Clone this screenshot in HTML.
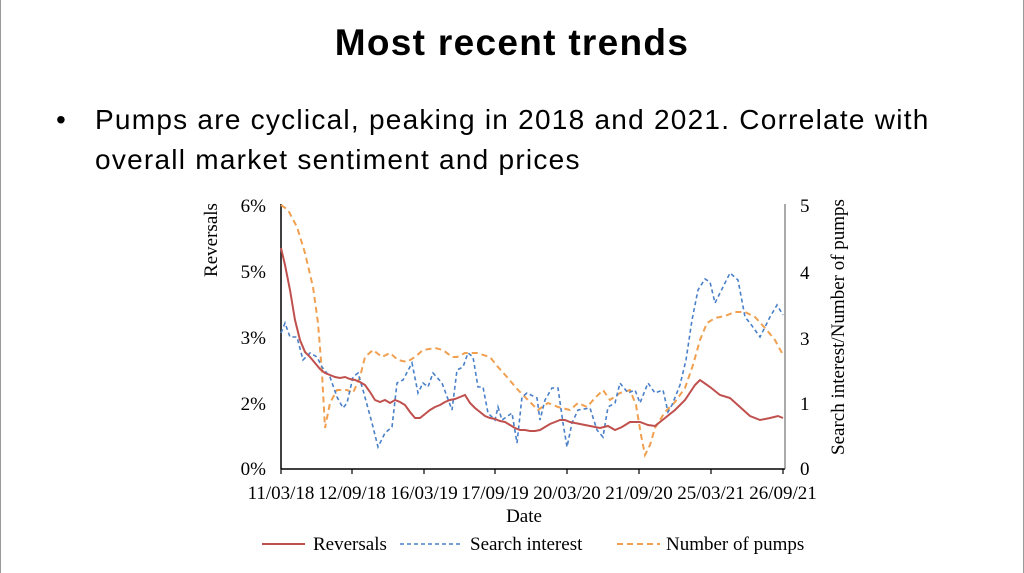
<!DOCTYPE html>
<html><head><meta charset="utf-8"><style>
html,body{margin:0;padding:0;background:#fff;}
body{width:1024px;height:573px;position:relative;overflow:hidden;font-family:"Liberation Sans",sans-serif;}
.t{position:absolute;left:0;width:1024px;top:22px;text-align:center;font-weight:bold;font-size:37px;letter-spacing:1.3px;color:#000;}
.b{position:absolute;left:95px;top:100px;font-size:28px;letter-spacing:1.25px;line-height:40px;color:#000;}
.d{position:absolute;left:56px;top:100px;font-size:28px;line-height:40px;}
</style></head><body>
<div style="position:absolute;left:0;top:0;width:1px;height:573px;background:#999"></div>
<div style="position:absolute;right:0;top:0;width:1px;height:573px;background:#999"></div>
<div class="t">Most recent trends</div>
<div class="d">•</div>
<div class="b">Pumps are cyclical, peaking in 2018 and 2021. Correlate with<br>overall market sentiment and prices</div>
<svg width="1024" height="573" style="position:absolute;left:0;top:0" font-family="Liberation Serif, serif" font-size="19">
<line x1="281" y1="204" x2="281" y2="469" stroke="#000" stroke-width="1.5"/>
<line x1="281" y1="469" x2="785" y2="469" stroke="#000" stroke-width="1.5"/>
<line x1="785" y1="204" x2="785" y2="469" stroke="#555" stroke-width="1"/>
<g stroke="#000" stroke-width="1.2">
<line x1="352" y1="469" x2="352" y2="474"/><line x1="424" y1="469" x2="424" y2="474"/><line x1="495" y1="469" x2="495" y2="474"/><line x1="567" y1="469" x2="567" y2="474"/><line x1="639" y1="469" x2="639" y2="474"/><line x1="711" y1="469" x2="711" y2="474"/><line x1="783" y1="469" x2="783" y2="474"/><line x1="281" y1="469" x2="281" y2="474"/>
</g>
<g text-anchor="end">
<text x="266" y="212">6%</text><text x="266" y="278">5%</text><text x="266" y="344">3%</text><text x="266" y="410">2%</text><text x="266" y="475">0%</text>
</g>
<g>
<text x="800" y="212">5</text><text x="800" y="279">4</text><text x="800" y="345">3</text><text x="800" y="410">1</text><text x="800" y="475">0</text>
</g>
<g text-anchor="middle">
<text x="281" y="499">11/03/18</text><text x="352" y="499">12/09/18</text><text x="424" y="499">16/03/19</text><text x="495" y="499">17/09/19</text><text x="567" y="499">20/03/20</text><text x="639" y="499">21/09/20</text><text x="711" y="499">25/03/21</text><text x="783" y="499">26/09/21</text>
<text x="524" y="522">Date</text>
</g>
<text transform="translate(217,240) rotate(-90)" text-anchor="middle">Reversals</text>
<text transform="translate(844,327) rotate(-90)" text-anchor="middle">Search interest/Number of pumps</text>
<polyline fill="none" stroke="#f0a050" stroke-width="2" stroke-dasharray="6,4" points="281,205 288,210 297,227 305,253 313,287 318,323 322,373 325,428 330,403 337,390 347,390 353,393 360,377 365,357 373,350 382,357 390,353 398,360 407,362 415,357 423,350 435,348 443,350 452,357 457,357 465,353 477,353 490,357 498,367 507,377 518,390 528,400 538,410 548,403 558,407 570,410 578,403 587,407 595,398 603,390 610,400 620,393 630,390 636,405 641,435 645,455 650,445 655,428 665,412 675,402 685,388 693,365 700,340 707,323 715,318 725,316 735,312 745,312 755,317 765,328 775,340 783,355"/>
<polyline fill="none" stroke="#4a80c8" stroke-width="1.6" stroke-dasharray="4,3" points="281,333 285,323 290,337 297,337 303,360 310,353 317,357 322,367 330,377 337,397 343,408 347,403 353,377 358,373 363,390 372,423 378,447 385,433 392,427 397,383 403,380 412,363 418,393 423,383 428,387 433,373 442,383 452,410 457,370 463,367 468,353 473,357 478,387 483,387 488,413 495,420 498,407 502,420 512,413 517,443 522,397 527,393 537,398 540,420 545,400 552,388 558,388 563,423 567,447 572,423 578,410 590,408 597,430 603,437 608,407 615,403 620,383 628,393 635,390 640,403 648,383 655,393 663,390 668,412 672,405 680,385 686,360 692,320 698,290 705,279 710,282 715,303 720,293 730,273 738,280 745,317 750,323 760,337 770,317 777,305 783,315"/>
<polyline fill="none" stroke="#c0504d" stroke-width="2" points="281,248 285,265 290,290 295,320 300,340 305,352 310,357 315,363 320,369 325,373 330,375 335,377 340,378 345,377 350,379 355,380 360,382 365,385 370,392 375,400 380,402 385,400 390,403 395,400 400,402 405,405 410,412 415,418 420,418 425,414 430,410 435,407 440,405 445,402 450,400 455,399 460,397 465,395 470,403 475,408 480,412 485,416 490,418 495,419 500,421 505,422 510,425 515,428 520,430 525,430 530,431 535,431 540,430 545,427 550,424 555,422 560,420 565,420 570,422 580,424 590,426 600,428 608,426 615,430 622,427 630,422 640,422 648,425 655,426 665,418 675,410 685,400 695,385 700,380 710,387 720,395 730,398 740,407 750,416 760,420 770,418 778,416 783,418"/>
<line x1="262" y1="544" x2="305" y2="544" stroke="#c0504d" stroke-width="2"/>
<text x="313" y="550">Reversals</text>
<line x1="400" y1="544" x2="462" y2="544" stroke="#4a80c8" stroke-width="1.6" stroke-dasharray="4,3"/>
<text x="470" y="550">Search interest</text>
<line x1="617" y1="544" x2="660" y2="544" stroke="#f0a050" stroke-width="2" stroke-dasharray="6,4"/>
<text x="666" y="550">Number of pumps</text>
</svg>
</body></html>
